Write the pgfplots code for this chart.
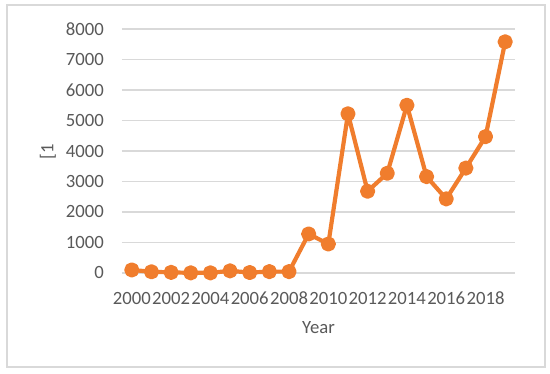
\documentclass[border=0pt]{standalone}
\usepackage{fontspec}
\setmainfont{Carlito}
\usepackage{pgfplots}
\pgfplotsset{compat=1.18}
\definecolor{txtgray}{RGB}{89,89,89}
\definecolor{gridgray}{RGB}{217,217,217}
\definecolor{xlorange}{RGB}{240,125,45}

\begin{document}
\begin{tikzpicture}
\fontsize{18.7}{22}\selectfont
\begin{axis}[scale only axis, width=393pt, height=244pt,
    at={(0,0)}, anchor=south west,
    xmin=-0.5, xmax=19.5, ymin=0, ymax=8000,
    xtick={0,2,...,18},
    xticklabels={2000,2002,2004,2006,2008,2010,2012,2014,2016,2018},
    ytick={0,1000,...,8000},
    /pgf/number format/assume math mode=true,
    /pgf/number format/1000 sep={},
    ymajorgrids, grid style={gridgray, line width=1.3pt},
    axis line style={draw=none}, tick style={draw=none},
    major tick length=0pt,
    ticklabel style={font=\fontsize{18.7}{22}\selectfont, text=txtgray, inner sep=0pt},
    yticklabel style={anchor=east, xshift=-18pt},
    xticklabel style={anchor=north, yshift=-19pt},
    clip=false]
\addplot[xlorange, line width=4.2pt, line join=round, line cap=round,
         mark=*, mark size=5.5pt,
         mark options={fill=xlorange, draw=none}] coordinates {
(0,100) (1,40) (2,20) (3,5) (4,5) (5,70) (6,15) (7,45) (8,45)
(9,1280) (10,950) (11,5220) (12,2680) (13,3270) (14,5500)
(15,3160) (16,2430) (17,3440) (18,4470) (19,7580)};
\end{axis}
\node[text=txtgray, font=\fontsize{18.7}{22}\selectfont] at (196.5pt,-55pt) {Year};
\node[text=txtgray, font=\fontsize{18.7}{22}\selectfont, rotate=90] at (-74pt,121pt) {[1};
\draw[gridgray, line width=1.5pt] (-115pt,-94pt) rectangle (423pt,268pt);
\path (-122pt,-101pt) rectangle (428pt,273pt);
\end{tikzpicture}
\end{document}
